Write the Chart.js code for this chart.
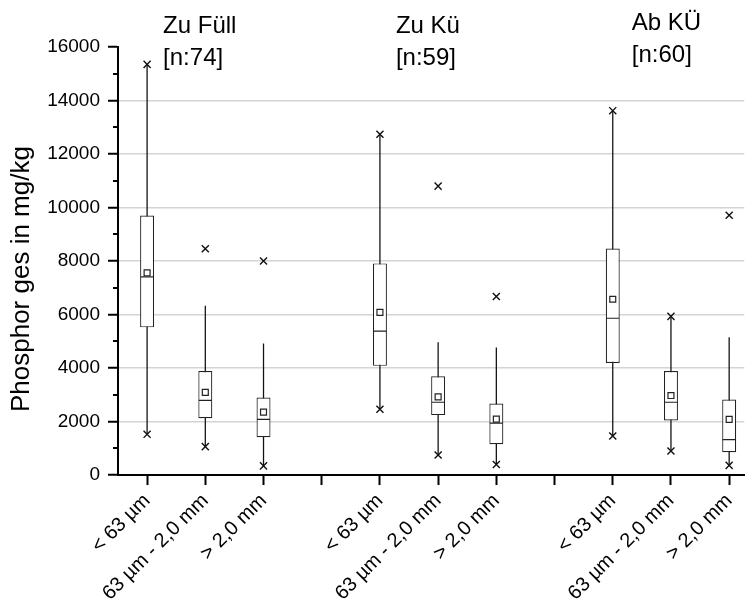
<!DOCTYPE html>
<html>
<head>
<meta charset="utf-8">
<script src="https://cdn.jsdelivr.net/npm/chart.js@4.4.1/dist/chart.umd.min.js"></script>
<style>
  html, body { margin: 0; padding: 0; background: #fff; }
  #wrap { width: 752px; height: 610px; }
</style>
</head>
<body>
<div id="wrap"><canvas id="chart" width="752" height="610"></canvas></div>
<script>
// groups (sampling points) and particle size fractions
const groups = ['Zu Füll', 'Zu Kü', 'Ab KÜ'];
const groupN = [74, 59, 60];
const fractions = ['< 63 µm', '63 µm - 2,0 mm', '> 2,0 mm'];

// one value per box, order: group 1 fractions, group 2 fractions, group 3 fractions
const q1      = [5520, 2120, 1410, 4080, 2240, 1150, 4190, 2040,  850];
const median  = [7410, 2790, 2080, 5380, 2720, 1940, 5860, 2720, 1320];
const q3      = [9700, 3890, 2900, 7910, 3690, 2670, 8470, 3890, 2820];
const means   = [7560, 3090, 2350, 6080, 2920, 2090, 6570, 2970, 2080];
const whiskLo = [1520, 1060,  340, 2460,  750,  390, 1460,  900,  360];
const whiskHi = [15350, 6330, 4920, 12740, 4960, 4770, 13620, 5930, 5150];
const minVals = [1520, 1060,  340, 2460,  750,  390, 1460,  900,  360];
const maxVals = [15350, 8460, 8000, 12740, 10800, 6670, 13620, 5930, 9710];

const yTicks = [0, 2000, 4000, 6000, 8000, 10000, 12000, 14000, 16000];
const yMinorTicks = [1000, 3000, 5000, 7000, 9000, 11000, 13000, 15000];

// x slot for each box: one empty slot between groups
const slotOf = i => Math.floor(i / 3) * 4 + (i % 3);
const xLabels = [];
groups.forEach((g, gi) => {
  fractions.forEach(f => xLabels.push(f));
  if (gi < groups.length - 1) xLabels.push('');
});

const pts = arr => arr.map((v, i) => ({ x: slotOf(i), y: v }));
const FONT = "'Liberation Sans', Arial, sans-serif";

Chart.defaults.color = '#000';
Chart.defaults.font.family = FONT;

const minorTicks = {
  id: 'minorTicks',
  afterDraw(chart) {
    const { ctx, chartArea, scales } = chart;
    ctx.save();
    ctx.strokeStyle = '#000';
    ctx.lineWidth = 2;
    yMinorTicks.forEach(v => {
      const y = Math.round(scales.y.getPixelForValue(v));
      ctx.beginPath();
      ctx.moveTo(chartArea.left - 5, y);
      ctx.lineTo(chartArea.left, y);
      ctx.stroke();
    });
    ctx.restore();
  }
};

const groupTitles = {
  id: 'groupTitles',
  afterDraw(chart) {
    const { ctx, scales } = chart;
    ctx.save();
    ctx.fillStyle = '#000';
    ctx.font = '24px ' + FONT;
    ctx.textAlign = 'left';
    ctx.textBaseline = 'alphabetic';
    groups.forEach((g, gi) => {
      const x = scales.x.getPixelForValue(gi * 4) + (gi === 2 ? 19 : 16);
      const base = gi === 2 ? 30 : 33;
      ctx.fillText(g, x, base);
      ctx.fillText('[n:' + groupN[gi] + ']', x, base + 32);
    });
    ctx.restore();
  }
};

const ctx = document.getElementById('chart').getContext('2d');
new Chart(ctx, {
  type: 'bar',
  data: {
    datasets: [
      {
        type: 'scatter',
        label: 'Min/Max',
        data: pts(minVals).concat(pts(maxVals)),
        pointStyle: 'crossRot',
        radius: 5,
        borderColor: '#111',
        borderWidth: 1.4,
        order: 0
      },
      {
        type: 'scatter',
        label: 'Mittelwert',
        data: pts(means),
        pointStyle: 'rect',
        radius: 4.2,
        backgroundColor: '#fff',
        borderColor: '#222',
        borderWidth: 1.2,
        order: 0
      },
      {
        type: 'scatter',
        label: 'Median',
        data: pts(median),
        pointStyle: 'line',
        radius: 6.5,
        borderColor: '#222',
        borderWidth: 1.2,
        order: 0
      },
      {
        label: 'Box',
        data: q1.map((v, i) => ({ x: slotOf(i), y: [v, q3[i]] })),
        backgroundColor: '#fff',
        borderColor: '#222',
        borderWidth: 1.2,
        borderSkipped: false,
        grouped: false,
        categoryPercentage: 1,
        barPercentage: 0.24,
        order: 1
      },
      {
        label: 'Whisker',
        data: whiskLo.map((v, i) => ({ x: slotOf(i), y: [v, whiskHi[i]] })),
        backgroundColor: '#111',
        borderWidth: 0,
        grouped: false,
        categoryPercentage: 1,
        barPercentage: 0.022,
        order: 2
      }
    ]
  },
  options: {
    responsive: false,
    animation: false,
    layout: { padding: { top: 47, right: 0, bottom: 0, left: 4 } },
    plugins: {
      legend: { display: false },
      tooltip: { enabled: false }
    },
    scales: {
      x: {
        type: 'linear',
        min: -0.5,
        max: 10.26,
        offset: false,
        afterBuildTicks: s => { s.ticks = xLabels.map((l, i) => ({ value: i })); },
        afterFit: s => { s.height = 135; },
        ticks: {
          autoSkip: false,
          minRotation: 45,
          maxRotation: 45,
          padding: 4,
          font: { size: 20 },
          callback: v => xLabels[v]
        },
        grid: { offset: false, drawOnChartArea: false, tickLength: 10, tickWidth: 2, tickColor: '#000' },
        border: { color: '#000', width: 2 }
      },
      y: {
        min: 0,
        max: 16000,
        stacked: false,
        afterBuildTicks: s => { s.ticks = yTicks.map(v => ({ value: v })); },
        afterFit: s => { s.width = 114; },
        ticks: { padding: 8, font: { size: 19 }, callback: v => String(v) },
        grid: {
          color: c => (c.tick && c.tick.value > 0 && c.tick.value < 16000) ? '#d4d4d4' : 'rgba(0,0,0,0)',
          lineWidth: 1.5,
          tickLength: 10,
          tickWidth: 2,
          tickColor: '#000'
        },
        border: { color: '#000', width: 2 },
        title: {
          display: true,
          text: 'Phosphor ges in mg/kg     ',
          font: { size: 26 },
          padding: { top: 2, bottom: 4 }
        }
      }
    }
  },
  plugins: [minorTicks, groupTitles]
});
</script>
</body>
</html>
